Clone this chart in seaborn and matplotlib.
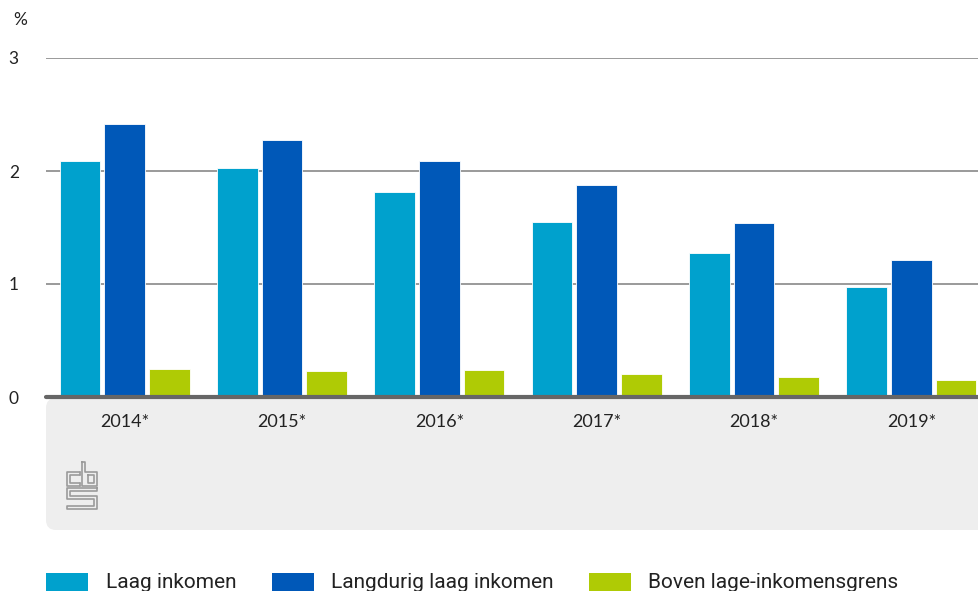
import numpy as np
import pandas as pd
import matplotlib
matplotlib.use("Agg")
import matplotlib.pyplot as plt
import seaborn as sns
from matplotlib.patches import FancyBboxPatch, Rectangle
from matplotlib.lines import Line2D
from matplotlib.transforms import IdentityTransform

years = ["2014*", "2015*", "2016*", "2017*", "2018*", "2019*"]
laag = [2.09, 2.03, 1.81, 1.55, 1.27, 0.97]
langdurig = [2.42, 2.27, 2.09, 1.88, 1.54, 1.21]
boven = [0.25, 0.23, 0.24, 0.20, 0.18, 0.15]
series_names = ["Laag inkomen", "Langdurig laag inkomen", "Boven lage-inkomensgrens"]
colors = ["#00A1CD", "#0058B8", "#AFCB05"]
yticks = [0, 1, 2, 3]

df = pd.DataFrame({
    "jaar": years * 3,
    "waarde": laag + langdurig + boven,
    "reeks": [series_names[0]] * 6 + [series_names[1]] * 6 + [series_names[2]] * 6,
})

sns.set_theme(style="white")
plt.rcParams["font.family"] = ["Lato", "DejaVu Sans"]

W, H = 979, 591
fig = plt.figure(figsize=(W / 100, H / 100), dpi=100)
ax_left, ax_right = 46, 990
ax_bottom, ax_top = 397, 58
ax = fig.add_axes([ax_left / W, (H - ax_bottom) / H, (ax_right - ax_left) / W, (ax_bottom - ax_top) / H])
ax.set_zorder(2)

# grey panel below the axis
panel = FancyBboxPatch((46 + 10, H - 530 + 10), 960, 132 - 20,
                       boxstyle="round,pad=10", transform=IdentityTransform(),
                       facecolor="#EEEEEE", edgecolor="none", zorder=-5)
fig.patches.append(panel)

sns.barplot(data=df, x="jaar", y="waarde", hue="reeks", palette=colors,
            hue_order=series_names, order=years, width=0.85, gap=0.09,
            ax=ax, legend=False, saturation=1, edgecolor="white", linewidth=0.6)

ax.set_xlim(-0.5, 5.5)
ax.set_ylim(0, 3)
ax.set_yticks(yticks)
ax.set_yticklabels([str(t) for t in yticks])
ax.set_xlabel("")
ax.set_ylabel("")
ax.patch.set_alpha(0)
for s in ax.spines.values():
    s.set_visible(False)
for t in [1, 2, 3]:
    ax.axhline(t, color="#9A9A9A", linewidth=1.4, zorder=0)
ax.axhline(0, color="#666666", linewidth=3, zorder=5, clip_on=False)
ax.tick_params(axis="y", length=0, pad=19.5, labelsize=12.5, labelcolor="#222222")
ax.tick_params(axis="x", length=0, pad=12, labelsize=13, labelcolor="#222222")
for lab in ax.get_yticklabels():
    lab.set_horizontalalignment("right")

fig.text(13 / W, 1 - 20 / H, "%", fontsize=12.5, color="#222222", ha="left", va="center")

# CBS logo (approximate outline)
lc = "#9A9A9A"
def pline(xs, ys):
    fig.add_artist(Line2D([x / W for x in xs], [1 - y / H for y in ys],
                          transform=fig.transFigure, color=lc, linewidth=1.2, zorder=3))
# c
pline([80, 67, 67, 80], [472, 472, 486, 486])
pline([80, 70, 70, 80], [475, 475, 483, 483])
pline([80, 80], [472, 475]); pline([80, 80], [483, 486])
# b
pline([82, 82, 97, 97, 85, 85, 82], [462, 486, 486, 472, 472, 462, 462])
pline([88, 94, 94, 88, 88], [475, 475, 483, 483, 475])
# s
pline([97, 67, 67, 94, 94, 67, 67, 97, 97, 70, 70, 97, 97],
      [488, 488, 499, 499, 506, 506, 509, 509, 496, 496, 491, 491, 488])

# legend
legend_items = [(46, 106), (272, 331), (589, 648)]
for (px, tx), name, c in zip(legend_items, series_names, colors):
    fig.patches.append(Rectangle((px, H - 591), 42, 18, transform=IdentityTransform(),
                                 facecolor=c, edgecolor="none"))
    fig.text(tx / W, 1 - 583 / H, name, fontsize=15, color="#222222",
             ha="left", va="center", family=["Roboto", "DejaVu Sans"])

fig.savefig("out.png", dpi=100)
